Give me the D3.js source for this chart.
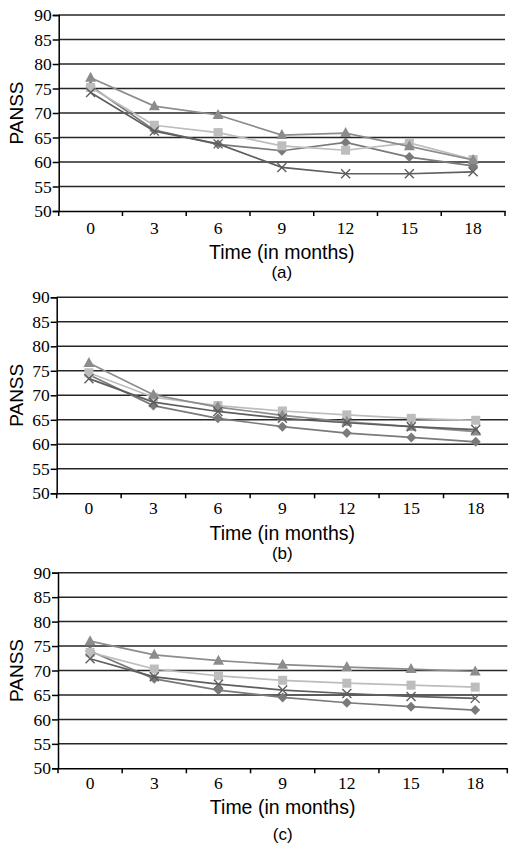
<!DOCTYPE html>
<html><head><meta charset="utf-8">
<script src="https://cdn.jsdelivr.net/npm/d3@7"></script>
<style>
html,body{margin:0;padding:0;background:#fff;}
svg{display:block;}
</style></head>
<body>
<svg id="chart" width="518" height="852"></svg>
<script>
const months = ["0","3","6","9","12","15","18"];
const yTicks = [50,55,60,65,70,75,80,85,90];
const panelLabels = ["(a)","(b)","(c)"];
// series per panel: diamond, square, triangle, cross
const diamondA = [75.5,66.5,63.6,62.3,64.0,61.0,59.2];
const squareA  = [75.2,67.5,66.0,63.3,62.4,63.9,60.5];
const triangleA= [77.2,71.4,69.6,65.5,65.9,63.2,60.4];
const crossA   = [74.2,66.3,63.7,58.9,57.6,57.6,58.0];

const diamondB = [74.2,67.9,65.3,63.6,62.3,61.4,60.5];
const squareB  = [74.6,69.6,67.9,66.8,66.0,65.3,64.9];
const triangleB= [76.6,70.1,67.6,65.9,64.6,63.6,62.6];
const crossB   = [73.4,68.6,66.7,65.3,64.4,63.6,63.0];

const diamondC = [74.0,68.3,66.0,64.5,63.4,62.6,61.9];
const squareC  = [73.7,70.3,68.9,68.0,67.4,67.0,66.6];
const triangleC= [76.0,73.2,72.0,71.2,70.7,70.3,69.8];
const crossC   = [72.4,68.7,67.2,66.0,65.3,64.7,64.3];

const panels = [
  {label:panelLabels[0], left:58.7, right:505, top:15, bottom:211, d:[diamondA,squareA,triangleA,crossA], lab:17, tt:41, pl:61},
  {label:panelLabels[1], left:56.7, right:508, top:297.3, bottom:493.3, d:[diamondB,squareB,triangleB,crossB], lab:15, tt:40, pl:60},
  {label:panelLabels[2], left:58, right:507.3, top:572.7, bottom:768.3, d:[diamondC,squareC,triangleC,crossC], lab:14.5, tt:39, pl:66}
];
const styles = [
  {shape:"diamond", stroke:"#7a7a7a", fill:"#7a7a7a"},
  {shape:"square", stroke:"#bdbdbd", fill:"#bdbdbd"},
  {shape:"triangle", stroke:"#8c8c8c", fill:"#8c8c8c"},
  {shape:"cross", stroke:"#5e5e5e", fill:"none"}
];
const svg = d3.select("#chart");
const serif = "'Liberation Serif','Times New Roman',serif";
const sans = "'Liberation Sans',Arial,sans-serif";

panels.forEach(p=>{
  const g = svg.append("g");
  const x = d3.scaleBand().domain(months).range([p.left,p.right]).padding(0);
  const y = d3.scaleLinear().domain([50,90]).range([p.bottom,p.top]);
  // gridlines
  g.selectAll(".grid").data(yTicks.slice(1)).enter().append("line")
    .attr("x1",p.left).attr("x2",p.right).attr("y1",d=>y(d)).attr("y2",d=>y(d))
    .attr("stroke","#262626").attr("stroke-width",1.5);
  // y axis
  const ya = g.append("g").attr("transform",`translate(${p.left},0)`)
    .call(d3.axisLeft(y).tickValues(yTicks).tickSize(6).tickPadding(1));
  ya.select(".domain").attr("stroke","#000").attr("stroke-width",1.5);
  ya.selectAll(".tick line").attr("stroke","#000").attr("stroke-width",1.5);
  ya.selectAll("text").attr("font-family",serif).attr("font-size",17.5).attr("fill","#000");
  // x axis
  const xa = g.append("g").attr("transform",`translate(0,${p.bottom})`)
    .call(d3.axisBottom(x).tickSize(0).tickPadding(0));
  xa.select(".domain").attr("stroke","#000").attr("stroke-width",1.5);
  xa.selectAll("text").attr("font-family",serif).attr("font-size",17.5).attr("fill","#000")
    .attr("dy",null).attr("y",p.lab+6);
  const bounds = months.map(m=>x(m)).concat([p.right]);
  g.selectAll(".xt").data(bounds).enter().append("line")
    .attr("x1",d=>d).attr("x2",d=>d).attr("y1",p.bottom).attr("y2",p.bottom+5)
    .attr("stroke","#000").attr("stroke-width",1.5);
  // titles
  const cx = (p.left+p.right)/2;
  g.append("text").attr("x",cx).attr("y",p.bottom+p.tt+7).attr("text-anchor","middle")
    .attr("font-family",sans).attr("font-size",19.5).attr("fill","#000").text("Time (in months)");
  g.append("text").attr("x",cx).attr("y",p.bottom+p.pl+6).attr("text-anchor","middle")
    .attr("font-family",sans).attr("font-size",17).attr("fill","#000").text(p.label);
  g.append("text").attr("transform",`translate(${16+6.5},${(p.top+p.bottom)/2}) rotate(-90)`)
    .attr("text-anchor","middle").attr("font-family",sans).attr("font-size",19).attr("fill","#000").text("PANSS");
  // series
  const line = d3.line().x((d,i)=>x(months[i])+x.bandwidth()/2).y(d=>y(d));
  p.d.forEach((vals,si)=>{
    const st = styles[si];
    g.append("path").datum(vals).attr("d",line).attr("fill","none")
      .attr("stroke",st.stroke).attr("stroke-width",1.7);
    const pts = g.selectAll(null).data(vals).enter().append("g")
      .attr("transform",(d,i)=>`translate(${x(months[i])+x.bandwidth()/2},${y(d)})`);
    if(st.shape==="diamond"){
      pts.append("path").attr("d","M0,-5L5,0L0,5L-5,0Z").attr("fill",st.fill);
    } else if(st.shape==="square"){
      pts.append("rect").attr("x",-4.5).attr("y",-4.5).attr("width",9).attr("height",9).attr("fill",st.fill);
    } else if(st.shape==="triangle"){
      pts.append("path").attr("d","M0,-6L5.5,4L-5.5,4Z").attr("fill",st.fill);
    } else {
      pts.append("path").attr("d","M-4.5,-4.5L4.5,4.5M-4.5,4.5L4.5,-4.5").attr("stroke",st.stroke).attr("stroke-width",1.4).attr("fill","none");
    }
  });
});
</script>
</body></html>
